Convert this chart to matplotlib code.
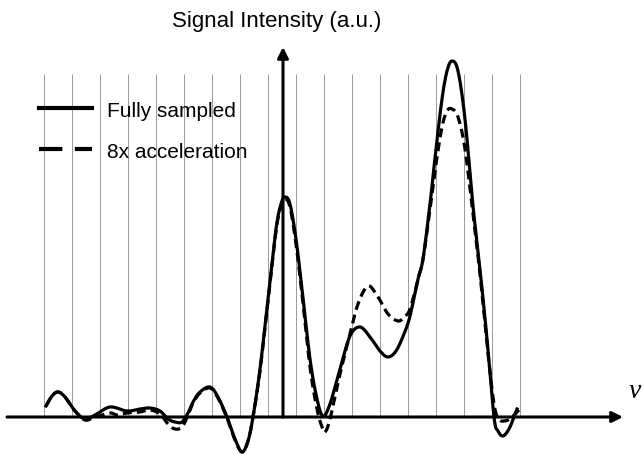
import matplotlib
matplotlib.use('Agg')

import numpy as np
import matplotlib.pyplot as plt
from matplotlib.lines import Line2D

plt.rcParams['font.family'] = ['Liberation Sans', 'DejaVu Sans']

# Frequency offset (a.u., 0 at the vertical axis) and signal intensity (a.u.)
nu_full = np.array([-237, -231, -225, -218, -208, -198, -188, -173, -156, -143,
                    -133, -123, -115, -108, -101, -95, -90, -83, -73, -65,
                    -56, -48, -41, -35, -30, -23, -15, -7, -2, 2,
                    7, 13, 19, 27, 34, 40, 47, 57, 67, 77,
                    87, 97, 105, 113, 121, 127, 135, 140, 147, 153,
                    159, 164, 169, 175, 182, 190, 197, 204, 211, 215,
                    220, 226, 231, 234])
sig_full = np.array([11, 21, 25, 20, 6, -2, 2, 10, 6, 8,
                     9, 6, -2, -5, -5, 4, 15, 25, 30, 20,
                     0, -22, -35, -24, 0, 48, 118, 188, 213, 220,
                     213, 178, 128, 58, 18, 1, 13, 48, 81, 90,
                     80, 66, 60, 66, 83, 101, 138, 158, 213, 268,
                     318, 346, 356, 346, 298, 211, 148, 78, 0, -14,
                     -19, -12, 0, 8])

nu_acc = np.array([-237, -231, -225, -218, -208, -198, -188, -173, -166, -156,
                   -143, -133, -123, -115, -108, -101, -95, -90, -83, -73,
                   -65, -56, -48, -41, -35, -30, -23, -15, -7, -2,
                   2, 7, 13, 19, 27, 34, 39, 42, 47, 57,
                   67, 75, 85, 95, 105, 115, 121, 127, 135, 140,
                   147, 153, 159, 164, 169, 175, 182, 190, 197, 204,
                   211, 216, 221, 227, 232, 236])
sig_acc = np.array([11, 21, 25, 20, 6, -3, 0, 4, 2, 4,
                    5, 7, 3, -7, -12, -10, 2, 14, 24, 29,
                    19, -1, -23, -35, -24, 0, 46, 116, 186, 211,
                    218, 210, 173, 123, 50, 8, -10, -15, -2, 43,
                    83, 113, 131, 120, 103, 96, 100, 108, 138, 158,
                    208, 253, 290, 306, 308, 300, 268, 203, 143, 73,
                    13, -2, -4, -2, 3, 7])

grid_nu = -239 + 28 * np.arange(18)
labels = ['Fully sampled', '8x acceleration']


def smooth(x, y, n=12):
    # Catmull-Rom through the read points, only to round off the drawing
    x = np.asarray(x, float)
    y = np.asarray(y, float)
    px = np.concatenate([[2 * x[0] - x[1]], x, [2 * x[-1] - x[-2]]])
    py = np.concatenate([[2 * y[0] - y[1]], y, [2 * y[-1] - y[-2]]])
    t = np.linspace(0, 1, n, endpoint=False)[:, None]
    out = []
    for p in (px, py):
        p0, p1, p2, p3 = p[:-3], p[1:-2], p[2:-1], p[3:]
        seg = 0.5 * (2 * p1 + (-p0 + p2) * t + (2 * p0 - 5 * p1 + 4 * p2 - p3) * t ** 2
                     + (-p0 + 3 * p1 - 3 * p2 + p3) * t ** 3)
        out.append(np.append(seg.T.ravel(), p[-2]))
    return out


fig = plt.figure(figsize=(6.43, 4.56), dpi=100)
ax = fig.add_axes([0, 0, 1, 1])
ax.set_xlim(-283, 360)
ax.set_ylim(-38, 418)
ax.axis('off')

ax.vlines(grid_nu, 0, 343, color='#9a9a9a', lw=0.7, zorder=1)

xs, ys = smooth(nu_full, sig_full)
ax.plot(xs, ys, color='black', lw=2.3, zorder=3)
xs, ys = smooth(nu_acc, sig_acc)
ax.plot(xs, ys, color='black', lw=2.3, ls=(0, (2.8, 1.6)), zorder=3)

# axes with arrow heads
ax.annotate('', xy=(340, 0), xytext=(-276, 0),
            arrowprops=dict(arrowstyle='-|>', lw=2.2, color='black', mutation_scale=16, shrinkA=0, shrinkB=0))
ax.annotate('', xy=(0, 370), xytext=(0, 0),
            arrowprops=dict(arrowstyle='-|>', lw=2.2, color='black', mutation_scale=16, shrinkA=0, shrinkB=0))

ax.text(-6, 397, 'Signal Intensity (a.u.)', ha='center', va='center', fontsize=16)
ax.text(346, 26, 'ν', ha='left', va='center', fontsize=20, style='italic', family='Liberation Serif')

handles = [Line2D([], [], color='black', lw=3.0),
           Line2D([], [], color='black', lw=3.0, ls=(0.6, (6.2, 3.0)))]
ax.legend(handles, labels, loc='upper left', bbox_to_anchor=(0.061, 0.777), frameon=False, fontsize=15,
          handlelength=2.55, handletextpad=0.72, labelspacing=1.05, borderpad=0, borderaxespad=0)

plt.savefig('out.png', dpi=100)
